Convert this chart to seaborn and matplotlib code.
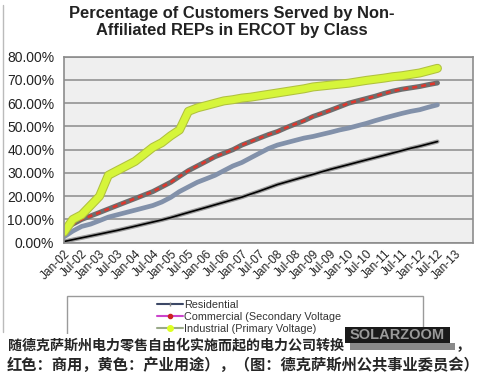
import pandas as pd
import numpy as np
import seaborn as sns
import matplotlib.pyplot as plt
import matplotlib.dates as mdates
import matplotlib.patheffects as pe
from matplotlib.patches import Rectangle
from matplotlib.lines import Line2D
from matplotlib.ticker import PercentFormatter

# quarterly readings, Jan-02 .. Jul-12 (percent of customers)
dates = pd.date_range("2002-01-01", "2012-07-01", freq="QS")

industrial = [4.5, 10, 12, 16, 20, 29, 31, 33, 35, 38, 41, 43, 46, 48.5, 56.5, 58, 59, 60, 61, 61.5,
              62.2, 62.6, 63.2, 63.8, 64.4, 65, 65.6, 66.2, 67, 67.4, 67.8, 68.2, 68.6, 69.2, 69.8, 70.3,
              70.8, 71.4, 71.8, 72.4, 73, 74, 75]
commercial = [5.5, 8, 10, 11.5, 13, 14.5, 16, 17.5, 19, 20.5, 22, 24, 26, 28.5, 31, 33, 35, 37, 38.5, 40,
              42, 43.5, 45, 46.5, 47.8, 49.5, 51, 52.5, 54.3, 55.6, 57, 58.5, 60, 61, 62, 63, 64.2, 65.2,
              66, 66.6, 67.2, 68, 68.7]
blue_series = [2.5, 5, 7, 8, 9.5, 11, 12, 13, 14, 15, 16, 17.5, 19.5, 22, 24, 26, 27.5, 29, 31, 33,
               34.5, 36.5, 38.5, 40.5, 42, 43, 44, 45, 45.7, 46.6, 47.5, 48.5, 49.3, 50.3, 51.3, 52.5,
               53.6, 54.6, 55.6, 56.5, 57.2, 58.3, 59.3]
residential = [0.5, 1.3, 2.1, 2.9, 3.7, 4.5, 5.3, 6.2, 7.1, 8.0, 8.9, 9.8, 10.8, 11.9, 13.0, 14.1, 15.2,
               16.3, 17.4, 18.5, 19.6, 20.9, 22.2, 23.6, 25.0, 26.1, 27.2, 28.3, 29.4, 30.5, 31.6, 32.6,
               33.6, 34.6, 35.6, 36.6, 37.6, 38.6, 39.6, 40.6, 41.5, 42.5, 43.5]

legend_labels = ["Residential", "Commercial (Secondary Voltage", "Industrial (Primary Voltage)"]

title = "Percentage of Customers Served by Non-\nAffiliated REPs in ERCOT by Class"
caption1 = "随德克萨斯州电力零售自由化实施而起的电力公司转换"
caption2 = "红色：商用，黄色：产业用途），（图：德克萨斯州公共事业委员会）"

sns.set_style("white")
plt.rcParams['font.family'] = ['Liberation Sans', 'DejaVu Sans']

W, H = 479, 376
fig = plt.figure(figsize=(W / 100, H / 100), dpi=100)
ax = fig.add_axes([64 / W, 1 - 242.7 / H, (473 - 64) / W, (242.7 - 56.7) / H])
ax.set_facecolor('#efefef')

# residential: black with grey fuzz
sns.lineplot(x=dates, y=residential, ax=ax, color='black', lw=1.2)
ax.lines[-1].set_path_effects([pe.Stroke(linewidth=3, foreground='#9a9a9a'), pe.Normal()])
# blue-grey series
sns.lineplot(x=dates, y=blue_series, ax=ax, color='#8291aa', lw=3.4)
# commercial: grey line with red markers
sns.lineplot(x=dates, y=commercial, ax=ax, color='#6e6e6e', lw=3.6)
sns.lineplot(x=dates, y=commercial, ax=ax, color='#e0362c', lw=1.8, dashes=(2, 1.6))
# industrial: thick yellow-green
sns.lineplot(x=dates, y=industrial, ax=ax, color='#d6f53a', lw=5)
ax.lines[-1].set_path_effects([pe.Stroke(linewidth=6.5, foreground='#b0c040'), pe.Normal()])

ax.set_xlim(pd.Timestamp("2002-01-01"), pd.Timestamp("2013-07-01"))
ax.set_ylim(0, 80)
ax.set_yticks(np.arange(0, 81, 10))
ax.yaxis.set_major_formatter(PercentFormatter(decimals=2))
xt = list(pd.date_range("2002-01-01", "2013-01-01", freq="6MS"))
ax.set_xticks(xt)
ax.set_xticklabels([t.strftime('%b-%y') for t in xt], rotation=45, ha='right',
                   rotation_mode='anchor', fontsize=8.6, color='#222222')
ax.tick_params(axis='x', direction='inout', length=5, color='#8c8c8c', pad=1)
ax.tick_params(axis='y', direction='out', length=4, color='#8c8c8c', labelsize=10, pad=3,
               labelcolor='#222222')
ax.grid(axis='y', color='#9a9a9a', lw=1.3)
ax.set_axisbelow(True)
for s in ax.spines.values():
    s.set_color('#8c8c8c')
    s.set_linewidth(1.2)
ax.set_xlabel('')
ax.set_ylabel('')

fig.text(232 / W, 1 - 22 / H, title, ha='center', va='center', fontsize=11.9,
         fontweight='bold', color='#222222', linespacing=1.2)

# left frame edge of the original chart image
fig.add_artist(Line2D([3 / W, 3 / W], [1 - 5 / H, 1 - 332 / H], color='#bbbbbb', lw=1))

# legend
fig.add_artist(Rectangle((67 / W, 1 - 345 / H), (423 - 67) / W, (345 - 296) / H,
                         facecolor='white', edgecolor='#9a9a9a', lw=1, zorder=4))
handles = [
    Line2D([], [], color='#3c4866', lw=1.5, marker='|', ms=3, mfc='#888888', mec='#888888'),
    Line2D([], [], color='#cc44cc', lw=1.5, marker='o', ms=3, mfc='#cc2222', mec='#cc2222'),
    Line2D([], [], color='#9aaa88', lw=1.5, marker='o', ms=4, mfc='#ddff22', mec='#ddff22'),
]
fig.legend(handles, legend_labels, loc='upper left', bbox_to_anchor=(149 / W, 1 - 292 / H),
           frameon=False, fontsize=7.8, handlelength=2.4, handletextpad=0.15,
           labelspacing=0.2, borderpad=0.2, labelcolor='#333333').set_zorder(5)

# white caption band over the bottom of the legend
fig.add_artist(Rectangle((0, 0), 1, 1 - 334 / H, facecolor='white', edgecolor='none', zorder=6))

cjk = ['Noto Sans CJK SC', 'DejaVu Sans']
fig.text(8 / W, 1 - 345 / H, caption1, ha='left', va='center', fontsize=10.1, fontweight='bold',
         family=cjk, zorder=7)
fig.text(456 / W, 1 - 345 / H, "，", ha='left', va='center', fontsize=10.5, fontweight='bold',
         family=cjk, zorder=7)
fig.text(7 / W, 1 - 365 / H, caption2, ha='left', va='center', fontsize=11, fontweight='bold',
         family=cjk, zorder=7)

# SOLARZOOM watermark
fig.add_artist(Rectangle((345 / W, 1 - 343 / H), 105 / W, 16 / H, facecolor='#1a1a1a',
                         edgecolor='none', zorder=8))
fig.add_artist(Rectangle((350 / W, 1 - 350 / H), 105 / W, 7 / H, facecolor='#8a8a8a',
                         edgecolor='none', zorder=8))
fig.text(397 / W, 1 - 335 / H, "SOLARZOOM", ha='center', va='center', fontsize=10.5,
         fontweight='bold', color='#9a9a9a', zorder=9)

plt.savefig("out.png", dpi=100)
